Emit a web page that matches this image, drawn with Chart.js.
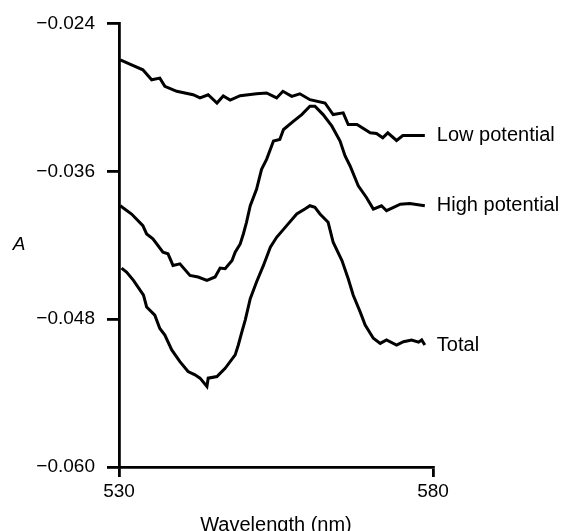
<!DOCTYPE html>
<html>
<head>
<meta charset="utf-8">
<script src="https://cdn.jsdelivr.net/npm/chart.js@4/dist/chart.umd.min.js"></script>
<style>
  html, body { margin: 0; padding: 0; background: #fff; }
  #wrap { width: 562px; height: 531px; }
</style>
</head>
<body>
<div id="wrap"><canvas id="myChart" width="562" height="531"></canvas></div>
<script>
// wavelength (nm) and absorbance
const lowNm = [530.2, 532.0, 533.8, 535.2, 536.5, 537.3, 539.2, 541.8, 542.9, 544.2, 545.6, 546.6, 547.7, 549.3, 551.9, 553.5, 555.1, 556.1, 557.5, 558.8, 560.4, 562.8, 564.1, 565.7, 566.5, 567.9, 570.0, 571.0, 572.0, 572.8, 574.2, 575.2, 578.7];
const lowA = [-0.02696, -0.02737, -0.02777, -0.02858, -0.02844, -0.02911, -0.02951, -0.02979, -0.03005, -0.02979, -0.03046, -0.02989, -0.03022, -0.02987, -0.02971, -0.02965, -0.03005, -0.02951, -0.02992, -0.02971, -0.03019, -0.03046, -0.03140, -0.03126, -0.03221, -0.03221, -0.03288, -0.03294, -0.03328, -0.03288, -0.03350, -0.03310, -0.03310];

const highNm = [530.2, 532.0, 533.8, 534.4, 535.4, 537.0, 537.8, 538.6, 539.7, 541.3, 542.6, 544.0, 545.3, 546.1, 546.9, 548.0, 548.5, 549.3, 549.8, 550.3, 550.9, 551.9, 552.7, 553.5, 554.6, 555.6, 556.2, 557.8, 559.1, 560.4, 561.2, 562.5, 563.9, 565.2, 566.0, 566.8, 568.1, 569.4, 570.5, 571.8, 572.6, 574.8, 576.3, 578.7];
const highA = [-0.03880, -0.03947, -0.04041, -0.04109, -0.04149, -0.04257, -0.04270, -0.04364, -0.04351, -0.04445, -0.04458, -0.04485, -0.04458, -0.04386, -0.04391, -0.04324, -0.04257, -0.04190, -0.04109, -0.04014, -0.03880, -0.03746, -0.03584, -0.03503, -0.03355, -0.03342, -0.03261, -0.03193, -0.03140, -0.03072, -0.03072, -0.03140, -0.03234, -0.03355, -0.03476, -0.03557, -0.03718, -0.03813, -0.03907, -0.03880, -0.03920, -0.03867, -0.03861, -0.03880];

const totalNm = [530.4, 531.2, 532.3, 533.9, 534.4, 535.7, 536.5, 537.3, 538.4, 539.7, 541.0, 542.1, 542.9, 544.0, 544.2, 545.6, 546.9, 548.5, 549.0, 549.5, 550.1, 550.9, 551.9, 553.0, 554.1, 555.1, 556.7, 558.3, 559.6, 560.4, 561.2, 562.0, 563.3, 564.1, 565.5, 566.5, 567.3, 568.4, 569.2, 570.5, 571.6, 572.6, 574.2, 575.3, 576.6, 577.7, 578.2, 578.7];
const totalA = [-0.04386, -0.04418, -0.04485, -0.04606, -0.04701, -0.04768, -0.04876, -0.04929, -0.05050, -0.05145, -0.05225, -0.05252, -0.05279, -0.05346, -0.05279, -0.05266, -0.05199, -0.05090, -0.05010, -0.04916, -0.04808, -0.04634, -0.04499, -0.04364, -0.04216, -0.04136, -0.04041, -0.03947, -0.03907, -0.03880, -0.03893, -0.03947, -0.04014, -0.04176, -0.04324, -0.04472, -0.04606, -0.04741, -0.04848, -0.04955, -0.04997, -0.04969, -0.05010, -0.04983, -0.04969, -0.04987, -0.04969, -0.05010];

const seriesNames = ['Low potential', 'High potential', 'Total'];
const xTicks = [530, 580];
const yTicks = [-0.060, -0.048, -0.036, -0.024];

const FONT = '"Liberation Sans", Arial, sans-serif';

function toPoints(xs, ys) {
    return xs.map((x, i) => ({ x: x, y: ys[i] }));
}

// labels at the right end of each curve + the unrotated "A"
const curveLabels = {
    id: 'curveLabels',
    afterDatasetsDraw(chart) {
        const ctx = chart.ctx;
        ctx.save();
        ctx.fillStyle = '#000';
        ctx.textBaseline = 'middle';
        ctx.textAlign = 'left';
        ctx.font = '20px ' + FONT;
        chart.data.datasets.forEach((ds, i) => {
            const pts = chart.getDatasetMeta(i).data;
            const last = pts[pts.length - 1];
            ctx.fillText(ds.label, last.x + 12, last.y);
        });
        ctx.font = 'italic 19px ' + FONT;
        ctx.textAlign = 'center';
        const area = chart.chartArea;
        ctx.fillText('A', 19, (area.top + area.bottom) / 2);
        ctx.restore();
    }
};

const lineStyle = { borderColor: '#000', borderWidth: 3, pointRadius: 0, tension: 0, fill: false };

const ctx = document.getElementById('myChart').getContext('2d');
const myChart = new Chart(ctx, {
    type: 'line',
    data: {
        datasets: [
            Object.assign({ label: seriesNames[0], data: toPoints(lowNm, lowA) }, lineStyle),
            Object.assign({ label: seriesNames[1], data: toPoints(highNm, highA) }, lineStyle),
            Object.assign({ label: seriesNames[2], data: toPoints(totalNm, totalA) }, lineStyle)
        ]
    },
    options: {
        responsive: false,
        animation: false,
        layout: { padding: { top: 20, right: 129, left: 0, bottom: 0 } },
        plugins: { legend: { display: false }, tooltip: { enabled: false } },
        scales: {
            x: {
                type: 'linear',
                min: 530,
                max: 580,
                afterBuildTicks: s => { s.ticks = xTicks.map(v => ({ value: v })); },
                afterFit: s => { s.height = 64; },
                grid: { drawOnChartArea: false, drawTicks: true, tickLength: 10, color: '#000', lineWidth: 2.8 },
                border: { display: true, color: '#000', width: 2.8 },
                ticks: { color: '#000', font: { family: FONT, size: 19 }, padding: 3, maxRotation: 0 },
                title: { display: true, text: 'Wavelength (nm)', color: '#000', font: { family: FONT, size: 20, lineHeight: 1 }, padding: { top: 0, bottom: -4 } }
            },
            y: {
                type: 'linear',
                min: -0.060,
                max: -0.024,
                afterBuildTicks: s => { s.ticks = yTicks.map(v => ({ value: v })); },
                afterFit: s => { s.width = 119; },
                grid: { drawOnChartArea: false, drawTicks: true, tickLength: 12, color: '#000', lineWidth: 2.8 },
                border: { display: true, color: '#000', width: 2.8 },
                ticks: {
                    color: '#000',
                    font: { family: FONT, size: 19 },
                    padding: 12,
                    callback: v => '\u2212' + Math.abs(v).toFixed(3)
                }
            }
        }
    },
    plugins: [curveLabels]
});
</script>
</body>
</html>
